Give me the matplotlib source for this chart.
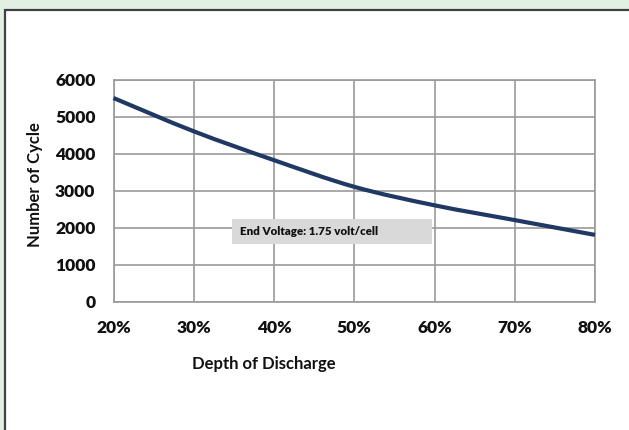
import numpy as np
import matplotlib.pyplot as plt
from matplotlib.path import Path
from matplotlib.patches import PathPatch, Rectangle

# depth of discharge (%) and cycle life
dod = [20, 30, 40, 50, 60, 70, 80]
cycles = [5500, 4600, 3820, 3100, 2600, 2200, 1800]
x_ticks = [20, 30, 40, 50, 60, 70, 80]
x_labels = ['20%', '30%', '40%', '50%', '60%', '70%', '80%']
y_ticks = [0, 1000, 2000, 3000, 4000, 5000, 6000]
note = 'End Voltage: 1.75 volt/cell'

plt.rcParams['font.family'] = ['Lato', 'DejaVu Sans']

W, H = 629, 430
fig = plt.figure(figsize=(W / 100, H / 100), dpi=100)
fig.patch.set_facecolor('#e2f0e4')

# white panel with dark border (runs off the right and bottom edges)
panel = Rectangle((5 / W, -0.05), 1.1, 1 - 9.5 / H + 0.05,
                  transform=fig.transFigure, facecolor='white',
                  edgecolor='#404040', linewidth=1.6, zorder=-5)
fig.patches.append(panel)

ax = fig.add_axes([113.5 / W, 1 - 301.5 / H, 481.5 / W, 222 / H])
ax.set_zorder(2)
ax.set_facecolor('white')
ax.set_xlim(20, 80)
ax.set_ylim(0, 6000)

grid_c = '#9a9a9a'
ax.set_xticks(x_ticks)
ax.set_xticklabels(x_labels)
ax.set_yticks(y_ticks)
ax.grid(True, color=grid_c, linewidth=1.2)
ax.set_axisbelow(True)
for s in ax.spines.values():
    s.set_color(grid_c)
    s.set_linewidth(1.2)
ax.tick_params(length=0, labelsize=12.5, labelcolor='#111111')
ax.tick_params(axis='x', pad=13)
ax.tick_params(axis='y', pad=13)
for lab in ax.get_xticklabels() + ax.get_yticklabels():
    lab.set_fontweight('heavy')

# smoothed line like the spreadsheet's, as cubic Bezier segments
x = np.array(dod, dtype=float)
y = np.array(cycles, dtype=float)
verts = [(x[0], y[0])]
codes = [Path.MOVETO]
n = len(x)
for i in range(n - 1):
    x0, y0 = (x[i - 1], y[i - 1]) if i > 0 else (x[i], y[i])
    x3, y3 = (x[i + 2], y[i + 2]) if i + 2 < n else (x[i + 1], y[i + 1])
    c1 = (x[i] + (x[i + 1] - x0) / 6, y[i] + (y[i + 1] - y0) / 6)
    c2 = (x[i + 1] - (x3 - x[i]) / 6, y[i + 1] - (y3 - y[i]) / 6)
    verts += [c1, c2, (x[i + 1], y[i + 1])]
    codes += [Path.CURVE4] * 3
ax.add_patch(PathPatch(Path(verts, codes), facecolor='none',
                       edgecolor='#203864', linewidth=3, capstyle='butt',
                       zorder=3, clip_on=False))

# note box
ax.add_patch(Rectangle((0.246, 0.259), 0.4155, 0.1125, transform=ax.transAxes,
                       facecolor='#d9d9d9', edgecolor='none', zorder=4))
ax.text(0.2627, 0.315, note, transform=ax.transAxes, fontsize=8.3,
        fontweight='heavy', va='center', ha='left', zorder=5, color='#111111')

fig.text(35 / W, 1 - 185 / H, 'Number of Cycle', rotation=90, ha='center',
         va='center', fontsize=12, fontweight='bold', color='#111111')
fig.text(264 / W, 1 - 364 / H, 'Depth of Discharge', ha='center',
         va='center', fontsize=12, fontweight='bold', color='#111111')

fig.savefig('out.png', dpi=100, facecolor=fig.get_facecolor())
